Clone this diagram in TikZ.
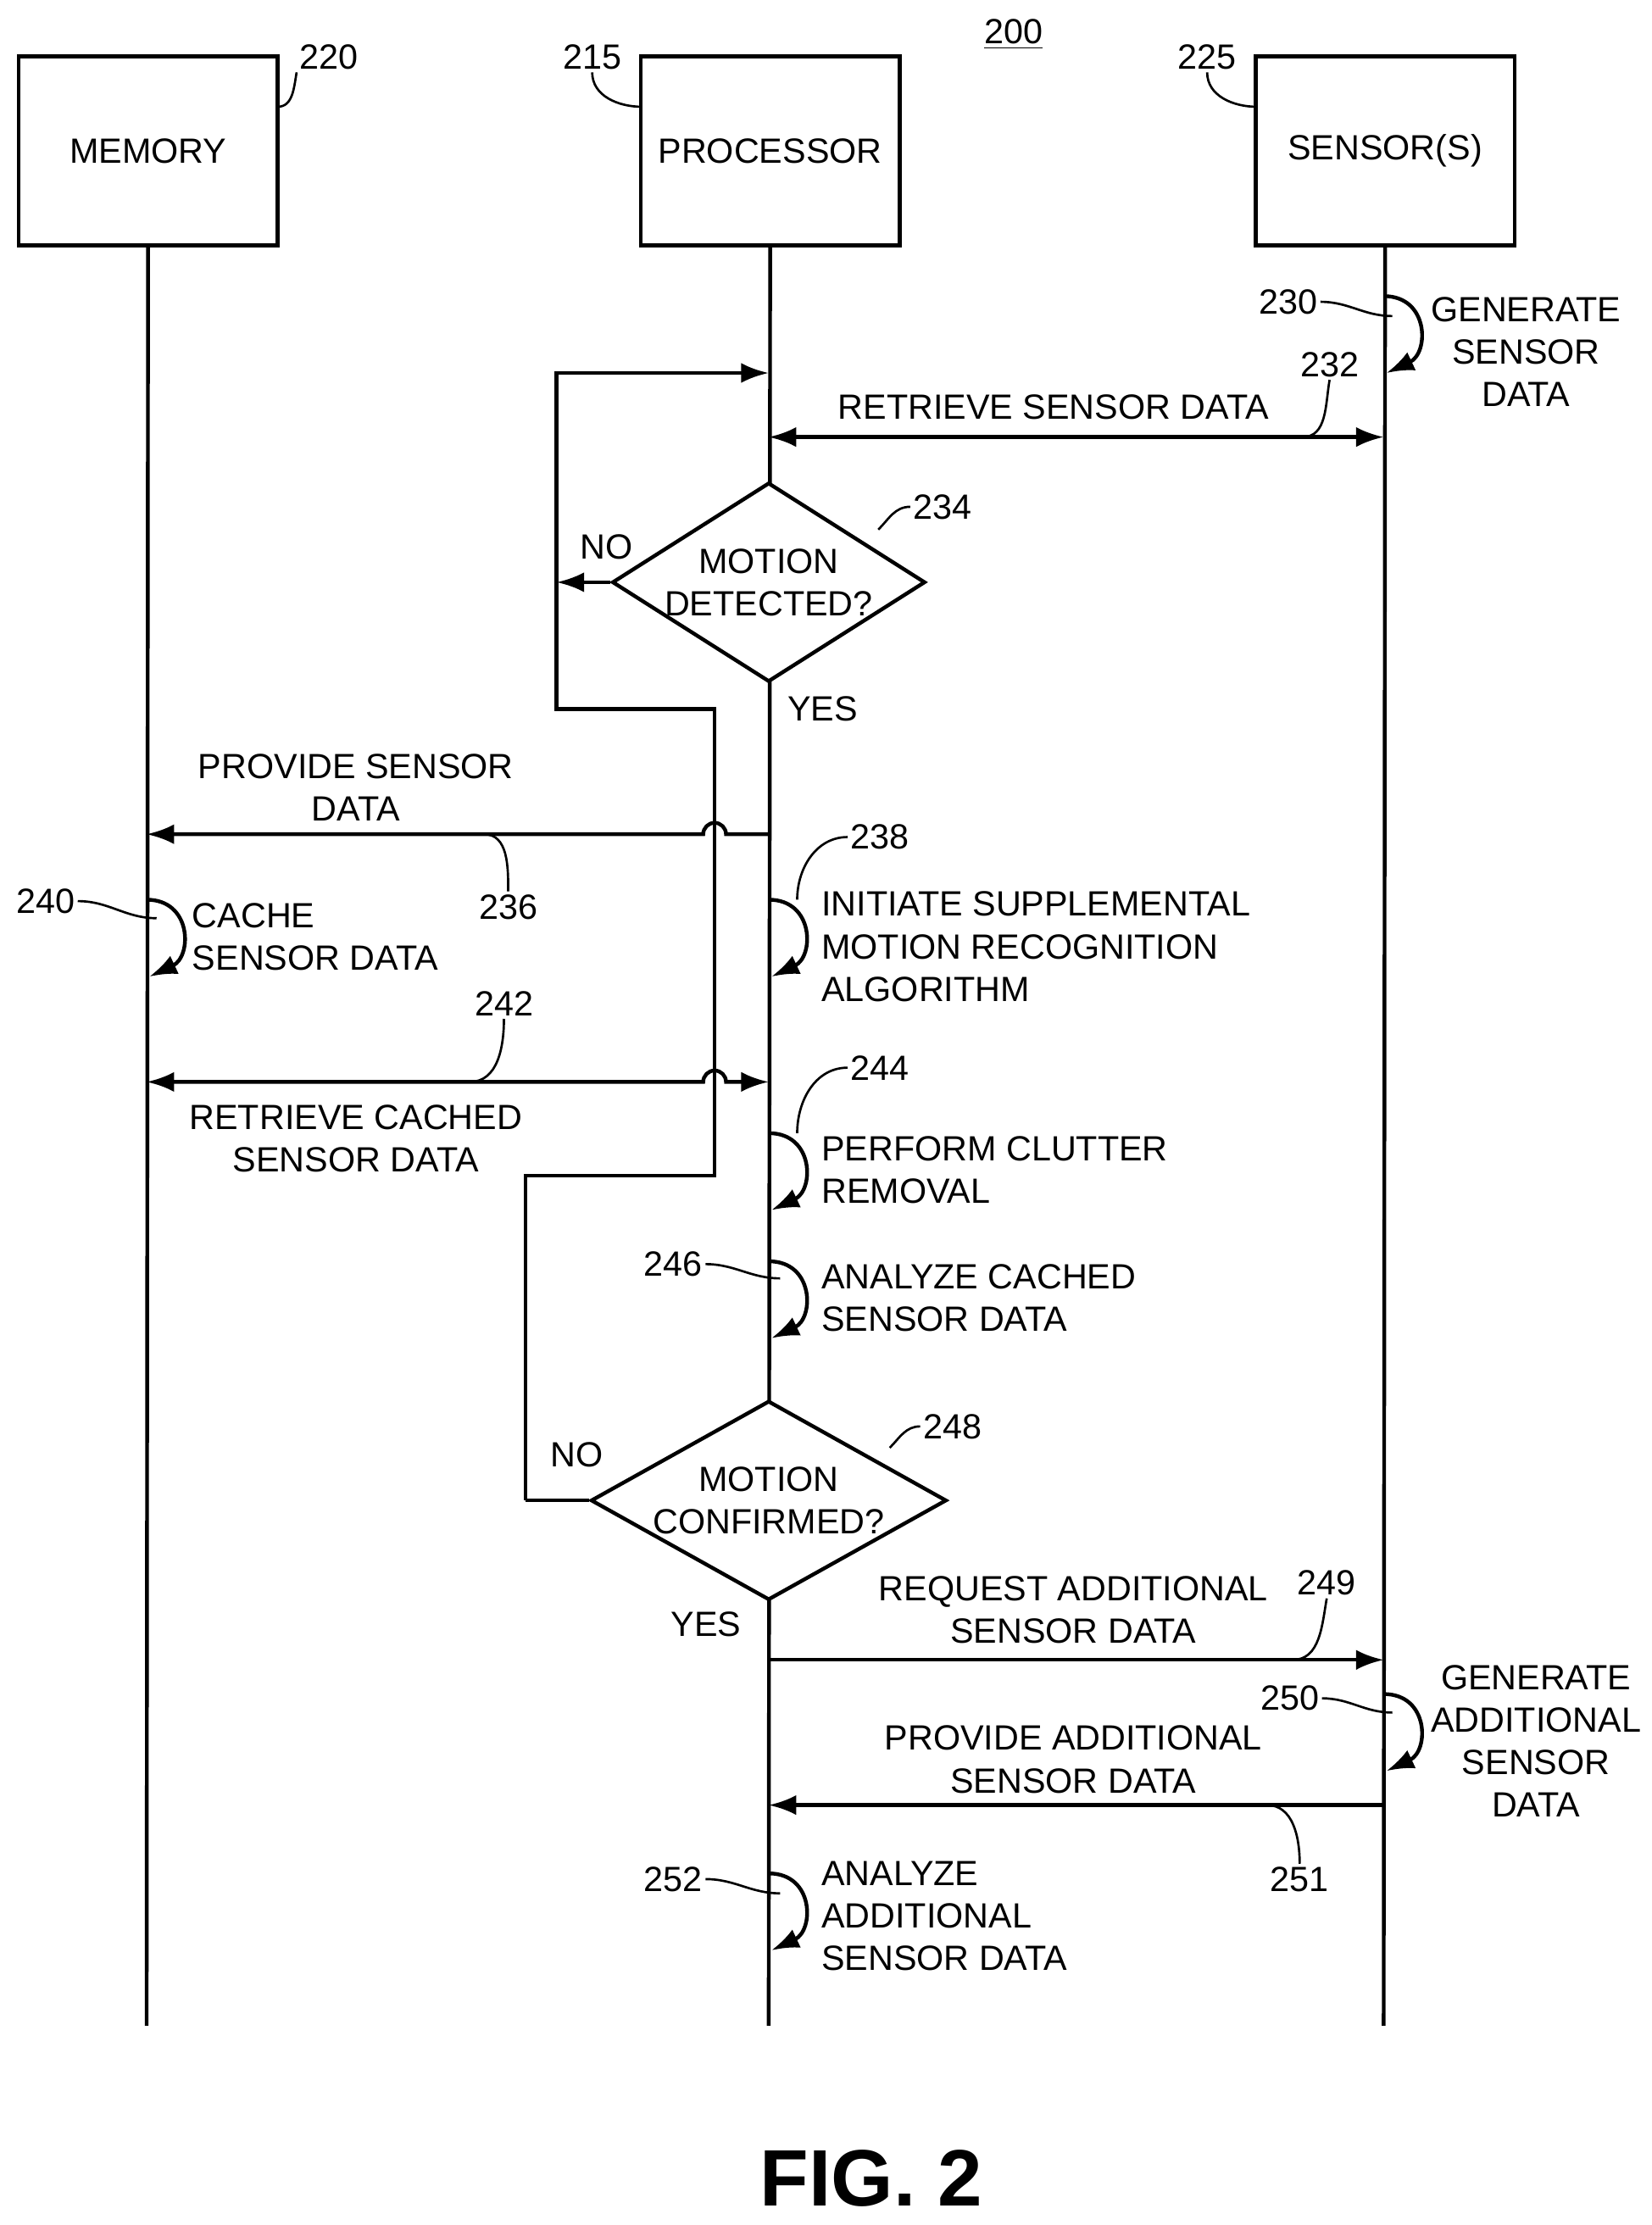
\documentclass[tikz,border=0pt]{standalone}
\usepackage{fontspec}
\setmainfont{Liberation Sans}
\usetikzlibrary{arrows.meta,shapes.geometric,positioning}

\tikzset{
  lbl/.style={font=\fontsize{14}{17}\selectfont, inner sep=1pt, align=center},
  txt/.style={font=\fontsize{14}{17}\selectfont, inner sep=1pt, align=left, anchor=west},
  block/.style={draw, line width=1.5pt, minimum width=3.64cm, minimum height=2.66cm, font=\fontsize{14}{17}\selectfont},
  dia/.style={draw, diamond, fill=white, line width=1.5pt, inner sep=0pt},
  msg/.style={line width=1.5pt, -{Latex[length=11pt,width=8pt]}},
  dmsg/.style={line width=1.5pt, {Latex[length=11pt,width=8pt]}-{Latex[length=11pt,width=8pt]}},
  lead/.style={line width=0.9pt},
}
\newcommand{\selfloop}[2]{% lifeline x, top y
  \draw[msg] (#1,#2) .. controls (#1+32,#2) and (#1+32,#2+40) .. (#1+2,#2+54);}

\begin{document}
\begin{tikzpicture}[x=0.02cm, y=-0.02cm]
  \useasboundingbox (0,0) rectangle (1160,1563);

  % participants
  \node[block] (memory) at (104,106) {MEMORY};
  \node[block] (processor) at (541,106) {PROCESSOR};
  \node[block] (sensor) at (973,106) {SENSOR(S)};
  \coordinate (memend) at (103,1423);
  \coordinate (procend) at (540,1423);
  \coordinate (sensend) at (972,1423);
  \draw[line width=1.5pt] (memory.south) -- (memend);
  \draw[line width=1.5pt] (processor.south) -- (procend);
  \draw[line width=1.5pt] (sensor.south) -- (sensend);

  \node[lbl] (n200) at (712,24) {\underline{200}};
  \node[lbl] (n220) at (231,40) {220};
  \node[lbl] (n215) at (416,40) {215};
  \node[lbl] (n225) at (848,40) {225};
  \draw[lead] (n220.south west) to[out=260,in=0] (195,75);
  \draw[lead] (n215.south) to[out=270,in=180] (451,75);
  \draw[lead] (n225.south) to[out=270,in=180] (883,75);

  % 230
  \selfloop{972}{208}
  \node[lbl] (gen) at (1072,247) {GENERATE\\SENSOR\\DATA};
  \node[lbl] (n230) at (905,212) {230};
  \draw[lead] (n230.east) to[out=0,in=180] (978,222);

  % loop back path
  \coordinate (l1) at (391,262);
  \coordinate (l2) at (391,498);
  \coordinate (l3) at (502,498);
  \coordinate (l4) at (502,826);
  \coordinate (l5) at (369,826);
  \coordinate (l6) at (369,1054);
  \coordinate (ptop) at (540,262);
  \draw[msg] (l6) -- (l5) -- (l4) -- (l3) -- (l2) -- (l1) -- (ptop);

  % 232
  \coordinate (a232p) at (540,307);
  \coordinate (a232s) at (972,307);
  \draw[dmsg] (a232p) -- (a232s);
  \node[lbl] (t232) at (740,286) {RETRIEVE SENSOR DATA};
  \node[lbl] (n232) at (934,256) {232};
  \draw[lead] (n232.south) to[out=260,in=0] (915,307);

  % 234
  \node[dia, minimum width=4.4cm, minimum height=2.8cm] (d234) at (540,409) {};
  \node[lbl] at (d234.center) {MOTION\\DETECTED?};
  \node[lbl] (n234) at (662,356) {234};
  \draw[lead] (n234.west) to[out=180,in=45] (617,372);
  \coordinate (no1) at (391,409);
  \draw[msg] (d234.west) -- (no1);
  \node[lbl] at (426,384) {NO};
  \node[lbl] at (578,498) {YES};

  % 236
  \coordinate (a236p) at (540,586);
  \coordinate (a236m) at (103,586);
  \draw[msg] (a236p) -- (510,586) arc[start angle=0, end angle=-180, radius=8] -- (a236m);
  \node[lbl] (t236) at (250,553) {PROVIDE SENSOR\\DATA};
  \node[lbl] (n236) at (357,637) {236};
  \draw[lead] (n236.north) to[out=90,in=0] (340,586);

  % 240
  \selfloop{103}{632}
  \node[txt] (t240) at (133,658) {CACHE\\SENSOR DATA};
  \node[lbl] (n240) at (32,633) {240};
  \draw[lead] (n240.east) to[out=0,in=180] (110,645);

  % 238
  \selfloop{540}{632}
  \node[txt] (t238) at (575,665) {INITIATE SUPPLEMENTAL\\MOTION RECOGNITION\\ALGORITHM};
  \node[lbl] (n238) at (618,588) {238};
  \draw[lead] (n238.west) to[out=180,in=90] (560,632);

  % 242
  \coordinate (a242m) at (103,760);
  \coordinate (a242p) at (540,760);
  \draw[dmsg] (a242m) -- (494,760) arc[start angle=180, end angle=360, radius=8] -- (a242p);
  \node[lbl] (t242) at (250,800) {RETRIEVE CACHED\\SENSOR DATA};
  \node[lbl] (n242) at (354,705) {242};
  \draw[lead] (n242.south) to[out=270,in=0] (330,760);

  % 244
  \selfloop{540}{796}
  \node[txt] (t244) at (575,822) {PERFORM CLUTTER\\REMOVAL};
  \node[lbl] (n244) at (618,750) {244};
  \draw[lead] (n244.west) to[out=180,in=90] (560,796);

  % 246
  \selfloop{540}{886}
  \node[txt] (t246) at (575,912) {ANALYZE CACHED\\SENSOR DATA};
  \node[lbl] (n246) at (473,888) {246};
  \draw[lead] (n246.east) to[out=0,in=180] (548,898);

  % 248
  \node[dia, minimum width=5cm, minimum height=2.8cm] (d248) at (540,1054) {};
  \node[lbl] at (d248.center) {MOTION\\CONFIRMED?};
  \node[lbl] (n248) at (669,1002) {248};
  \draw[lead] (n248.west) to[out=180,in=45] (625,1017);
  \draw[line width=1.5pt] (d248.west) -- (l6);
  \node[lbl] at (405,1022) {NO};
  \node[lbl] at (496,1141) {YES};

  % 249
  \coordinate (a249p) at (540,1166);
  \coordinate (a249s) at (972,1166);
  \draw[msg] (a249p) -- (a249s);
  \node[lbl] (t249) at (754,1131) {REQUEST ADDITIONAL\\SENSOR DATA};
  \node[lbl] (n249) at (932,1112) {249};
  \draw[lead] (n249.south) to[out=260,in=0] (908,1166);

  % 250
  \selfloop{972}{1190}
  \node[lbl] (t250) at (1079,1223) {GENERATE\\ADDITIONAL\\SENSOR\\DATA};
  \node[lbl] (n250) at (906,1193) {250};
  \draw[lead] (n250.east) to[out=0,in=180] (978,1203);

  % 251
  \coordinate (a251s) at (972,1268);
  \coordinate (a251p) at (540,1268);
  \draw[msg] (a251s) -- (a251p);
  \node[lbl] (t251) at (754,1236) {PROVIDE ADDITIONAL\\SENSOR DATA};
  \node[lbl] (n251) at (913,1320) {251};
  \draw[lead] (n251.north) to[out=90,in=0] (890,1268);

  % 252
  \selfloop{540}{1316}
  \node[txt] (t252) at (575,1346) {ANALYZE\\ADDITIONAL\\SENSOR DATA};
  \node[lbl] (n252) at (473,1320) {252};
  \draw[lead] (n252.east) to[out=0,in=180] (548,1330);

  \node[font=\fontsize{32}{38}\selectfont\bfseries] (fig) at (612,1530) {FIG. 2};
\end{tikzpicture}
\end{document}
